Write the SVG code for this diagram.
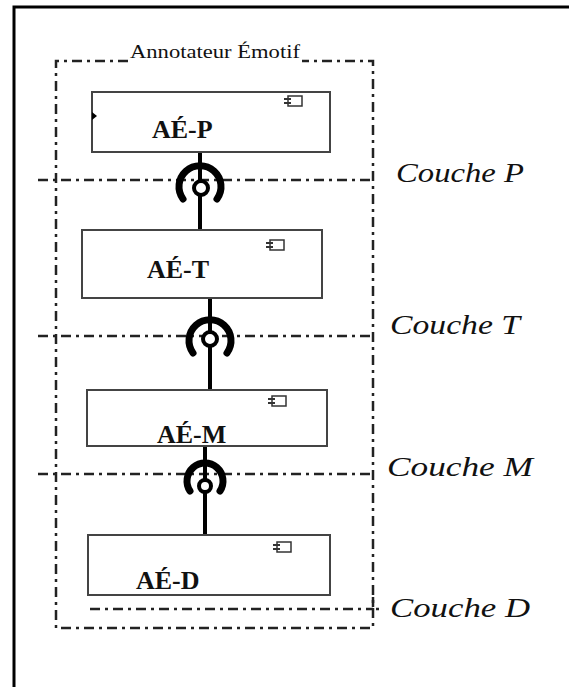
<svg xmlns="http://www.w3.org/2000/svg" width="569" height="687" viewBox="0 0 569 687">
<style>
.frame{fill:none;stroke:#000;stroke-width:3}
.dash{fill:none;stroke:#222;stroke-width:2.5;stroke-dasharray:10 5 3 5}
.box{fill:#fff;stroke:#444;stroke-width:2}
.lbl{font-family:"Liberation Serif",serif;font-weight:bold;font-size:26px;fill:#111}
.layer{font-family:"Liberation Serif",serif;font-style:italic;font-size:28px;fill:#111}
.title{font-family:"Liberation Serif",serif;font-size:19px;fill:#111}
.wire{stroke:#000;stroke-width:4;fill:none}
.sock{stroke:#000;stroke-width:7;fill:none;stroke-linecap:round}
.ball{stroke:#000;stroke-width:4;fill:#fff}
</style>
<defs>
<g id="comp">
<rect x="4" y="0" width="14" height="10" fill="none" stroke="#333" stroke-width="1.5"/>
<rect x="0" y="2" width="7" height="2" fill="#333"/>
<rect x="0" y="6" width="7" height="2" fill="#333"/>
</g>
</defs>
<rect width="569" height="687" fill="#fff"/>
<path class="frame" d="M14,700 L14,7 L580,7"/>

<g id="annotateur">
<path class="dash" d="M128,61 L56,61 L56,628 L373,628 L373,61 L302,61"/>
<text class="title" x="215" y="58" text-anchor="middle" textLength="170" lengthAdjust="spacingAndGlyphs">Annotateur Émotif</text>
</g>

<g id="layers">
<path class="dash" d="M38,180 L373,180"/>
<path class="dash" d="M38,336 L373,336"/>
<path class="dash" d="M38,474 L373,474"/>
<path class="dash" d="M90,609 L373,609 M373,597 L373,609 L382,609"/>
<text class="layer" x="396" y="182" textLength="128" lengthAdjust="spacingAndGlyphs">Couche P</text>
<text class="layer" x="390" y="334" textLength="130" lengthAdjust="spacingAndGlyphs">Couche T</text>
<text class="layer" x="387" y="476" textLength="146" lengthAdjust="spacingAndGlyphs">Couche M</text>
<text class="layer" x="390" y="617" textLength="140" lengthAdjust="spacingAndGlyphs">Couche D</text>
</g>

<g id="connectors">
<line class="wire" x1="200" y1="152" x2="200" y2="230"/>
<path class="sock" d="M183,199 A21,21 0 1 1 217,199"/>
<circle class="ball" cx="201" cy="188" r="7"/>
<line class="wire" x1="210" y1="298" x2="210" y2="390"/>
<path class="sock" d="M193,353 A21,21 0 1 1 227,353"/>
<circle class="ball" cx="210" cy="339" r="7"/>
<line class="wire" x1="205" y1="446" x2="205" y2="535"/>
<path class="sock" d="M190,491 A18,18 0 1 1 220,491"/>
<circle class="ball" cx="205" cy="486" r="6"/>
</g>

<g id="ae-p">
<rect class="box" x="92" y="92" width="238" height="60"/>
<path d="M92,112 L97,116 L92,120 Z" fill="#000"/>
<use href="#comp" x="284" y="96"/>
<text class="lbl" x="152" y="138">AÉ-P</text>
</g>
<g id="ae-t">
<rect class="box" x="82" y="230" width="240" height="68"/>
<use href="#comp" x="266" y="240"/>
<text class="lbl" x="147" y="278">AÉ-T</text>
</g>
<g id="ae-m">
<rect class="box" x="87" y="390" width="240" height="56"/>
<use href="#comp" x="268" y="396"/>
<text class="lbl" x="157" y="443">AÉ-M</text>
</g>
<g id="ae-d">
<rect class="box" x="88" y="535" width="242" height="60"/>
<use href="#comp" x="273" y="542"/>
<text class="lbl" x="136" y="589">AÉ-D</text>
</g>
</svg>
